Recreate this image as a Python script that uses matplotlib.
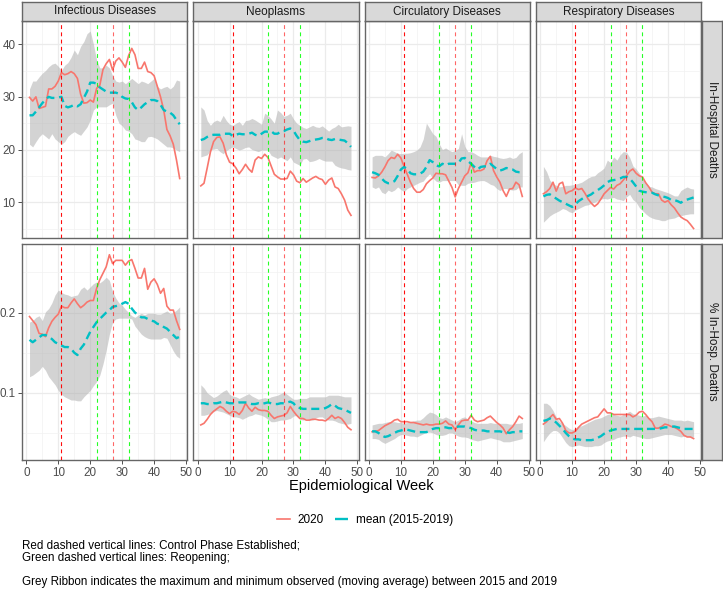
import matplotlib
matplotlib.use("Agg")
import matplotlib.pyplot as plt
from matplotlib.lines import Line2D

plt.rcParams['font.family'] = ['Liberation Sans', 'DejaVu Sans']

weeks = list(range(1, 49))
causes = ["Infectious Diseases", "Neoplasms", "Circulatory Diseases", "Respiratory Diseases"]
measures = ["In-Hospital Deaths", "% In-Hosp. Deaths"]
control_weeks = [11, 27]   # red
reopen_weeks = [22, 32]    # green

# ---- In-hospital deaths ----
inf_n_2020 = [29.9, 29.2, 30.0, 27.8, 28.0, 28.2, 31.5, 31.5, 32.0, 33.0, 34.6, 34.2, 34.4, 34.8, 34.4, 33.5,
              30.5, 28.8, 28.9, 29.4, 29.0, 31.6, 32.2, 35.2, 36.3, 37.1, 35.1, 36.8, 37.4, 36.6, 35.6, 37.8,
              39.2, 38.0, 35.4, 35.4, 36.6, 34.8, 34.6, 34.0, 32.0, 30.0, 27.5, 23.8, 22.6, 21.0, 18.0, 14.5]
inf_n_mean = [26.5, 26.5, 27.2, 28.0, 28.8, 29.5, 30.0, 29.8, 29.8, 29.9, 30.0, 28.3, 28.0, 28.2, 28.5, 28.2,
              28.6, 29.8, 31.0, 32.7, 32.7, 32.5, 31.8, 31.4, 31.0, 30.8, 30.8, 30.8, 30.6, 30.0, 29.7, 29.6,
              29.0, 28.0, 27.5, 28.0, 28.6, 29.0, 29.4, 29.4, 29.2, 28.5, 27.5, 27.2, 27.0, 26.5, 25.6, 24.8]
inf_n_max = [31.5, 33.0, 33.0, 33.8, 34.5, 35.0, 35.7, 36.2, 36.4, 35.8, 35.0, 36.0, 36.5, 37.5, 38.9, 38.0,
             39.6, 40.5, 42.0, 42.5, 40.0, 37.0, 35.5, 35.5, 36.0, 35.5, 34.0, 33.0, 32.8, 33.0, 32.5, 33.0,
             33.5, 33.0, 32.5, 33.0, 32.8, 32.5, 33.0, 33.5, 32.0, 31.5, 31.8, 32.0, 31.5, 32.0, 33.2, 33.0]
inf_n_min = [21.0, 20.5, 21.5, 22.4, 23.0, 22.5, 22.0, 23.0, 22.0, 21.5, 21.0, 21.5, 22.5, 23.0, 23.4, 23.0,
             22.7, 23.5, 24.3, 25.6, 27.5, 28.1, 28.1, 28.1, 28.1, 28.5, 28.8, 26.5, 25.0, 24.5, 23.7, 23.5,
             23.0, 22.0, 21.8, 21.5, 21.5, 22.4, 22.5, 22.3, 22.0, 21.5, 21.0, 20.5, 20.5, 20.3, 19.9, 19.6]

neo_n_2020 = [13.1, 13.6, 16.5, 19.5, 21.5, 22.3, 22.4, 21.2, 19.0, 17.6, 17.3, 16.5, 15.4, 16.2, 17.2, 16.3,
              15.7, 18.0, 18.6, 18.3, 19.1, 18.5, 16.9, 15.3, 14.8, 14.4, 14.4, 14.5, 15.9, 15.2, 14.0, 13.7,
              14.5, 13.8, 14.2, 14.6, 14.9, 14.5, 14.3, 13.4, 14.2, 14.6, 12.9, 12.6, 11.6, 10.4, 8.5, 7.5]
neo_n_mean = [21.8, 22.0, 22.4, 22.7, 22.8, 22.8, 22.8, 23.0, 23.0, 23.0, 22.6, 22.8, 23.0, 22.9, 22.9, 23.0,
              23.2, 22.8, 22.6, 23.0, 23.4, 23.4, 23.5, 23.0, 23.0, 23.4, 23.5, 23.8, 24.0, 23.6, 22.6, 21.8,
              21.5, 21.4, 21.6, 21.8, 21.9, 22.0, 22.2, 22.2, 21.9, 21.8, 22.0, 21.9, 21.8, 21.7, 21.2, 20.5]
neo_n_max = [28.1, 27.5, 25.5, 24.6, 25.3, 25.6, 25.3, 26.5, 25.5, 24.8, 24.6, 25.0, 25.3, 24.6, 25.5, 25.6,
             25.9, 25.6, 25.2, 24.8, 26.9, 26.5, 25.8, 25.0, 27.5, 27.0, 26.3, 26.5, 26.9, 25.8, 25.0, 24.6,
             24.2, 24.0, 24.3, 24.6, 24.3, 24.2, 24.5, 24.0, 23.5, 24.0, 24.3, 24.8, 24.3, 24.4, 24.5, 24.4]
neo_n_min = [18.6, 18.8, 19.0, 19.9, 20.1, 20.2, 19.6, 19.2, 19.8, 20.2, 20.5, 20.2, 19.9, 20.1, 20.4, 20.5,
             20.0, 19.8, 19.6, 19.9, 19.9, 19.9, 18.9, 18.6, 18.3, 18.6, 18.2, 17.9, 18.6, 17.6, 17.3, 17.0,
             18.2, 18.3, 17.7, 17.8, 18.0, 18.3, 18.0, 17.8, 17.8, 17.8, 17.0, 16.7, 16.5, 16.4, 16.2, 16.1]

cir_n_2020 = [14.7, 14.6, 15.0, 15.7, 16.7, 17.9, 18.5, 18.3, 19.1, 18.4, 16.8, 15.3, 13.8, 12.6, 11.9, 11.9,
              12.4, 13.5, 14.1, 14.6, 15.5, 15.4, 15.4, 15.2, 14.0, 12.8, 11.0, 12.6, 13.8, 15.0, 15.6, 17.5,
              15.7, 16.0, 16.0, 16.3, 17.9, 18.7, 16.0, 14.8, 13.8, 12.2, 11.1, 12.5, 12.6, 13.8, 13.3, 11.1]
cir_n_mean = [15.7, 15.5, 15.2, 14.5, 13.9, 13.6, 13.7, 14.0, 15.0, 16.2, 16.7, 16.3, 15.5, 15.3, 15.3, 15.4,
              15.8, 16.7, 18.0, 17.6, 17.0, 16.8, 17.3, 17.0, 17.3, 17.3, 17.3, 17.4, 18.3, 18.4, 17.8, 17.3,
              16.7, 16.2, 16.7, 16.8, 16.8, 17.3, 16.8, 16.3, 16.0, 16.2, 16.5, 16.3, 16.2, 15.8, 15.7, 15.7]
cir_n_max = [18.6, 18.9, 18.9, 18.9, 18.6, 19.2, 19.9, 19.6, 19.3, 19.2, 19.3, 19.3, 19.4, 19.6, 19.9, 20.5,
             22.0, 25.0, 24.0, 23.0, 22.5, 21.1, 20.0, 20.3, 19.9, 19.6, 19.8, 20.2, 23.0, 20.6, 19.6, 19.6,
             19.3, 18.9, 18.6, 18.6, 18.6, 18.9, 18.7, 18.6, 18.4, 18.3, 18.4, 18.6, 18.3, 18.5, 19.2, 19.6]
cir_n_min = [12.9, 12.6, 12.9, 11.9, 11.6, 12.3, 12.0, 12.3, 12.9, 12.4, 12.0, 12.6, 12.9, 13.2, 13.5, 13.8,
             14.0, 14.8, 15.4, 14.6, 14.0, 13.8, 14.1, 14.1, 14.1, 14.1, 14.1, 13.3, 13.2, 13.2, 13.6, 13.7,
             13.8, 14.0, 14.1, 14.1, 13.8, 13.4, 13.2, 12.6, 12.2, 12.6, 12.6, 12.4, 12.3, 12.4, 12.9, 12.9]

res_n_2020 = [11.6, 12.0, 12.6, 13.8, 12.1, 13.5, 13.8, 11.6, 12.0, 12.2, 12.7, 12.4, 12.6, 11.7, 10.6, 9.8,
              9.2, 9.7, 10.6, 11.6, 12.2, 12.8, 12.5, 13.2, 13.5, 14.2, 15.0, 15.9, 16.3, 15.5, 15.0, 14.8,
              13.7, 12.9, 11.9, 11.6, 11.6, 10.4, 10.0, 10.3, 9.5, 8.9, 8.0, 7.2, 6.8, 6.5, 5.8, 5.0]
res_n_mean = [11.1, 11.4, 11.5, 11.1, 10.7, 10.3, 10.0, 9.7, 9.4, 9.1, 9.6, 10.2, 10.6, 11.0, 11.2, 11.5,
              12.0, 12.3, 12.7, 13.2, 13.8, 14.1, 14.2, 14.3, 14.5, 14.8, 14.8, 14.5, 13.8, 13.0, 12.2, 12.0,
              11.9, 11.8, 11.8, 11.5, 11.3, 11.1, 11.0, 10.8, 10.4, 10.4, 10.2, 9.9, 10.3, 10.5, 10.7, 10.9]
res_n_max = [16.8, 15.8, 14.2, 13.5, 13.2, 12.9, 13.0, 13.2, 13.2, 13.3, 13.4, 13.6, 13.8, 14.2, 14.6, 14.9,
             15.0, 15.6, 16.0, 16.5, 18.0, 17.5, 18.6, 18.0, 19.0, 19.6, 19.5, 18.5, 16.9, 16.3, 15.5, 14.6,
             13.8, 13.0, 12.9, 12.6, 12.4, 12.2, 12.0, 11.8, 11.5, 11.2, 11.2, 12.2, 12.6, 12.9, 12.6, 12.5]
res_n_min = [6.2, 6.8, 7.4, 7.8, 8.1, 8.4, 8.8, 8.6, 8.2, 8.0, 8.5, 8.8, 9.1, 9.4, 9.5, 9.8,
             10.0, 10.3, 10.6, 10.7, 10.6, 10.8, 10.9, 10.6, 10.5, 10.3, 11.0, 11.5, 10.5, 10.0, 9.0, 8.4,
             7.8, 7.3, 7.0, 6.8, 6.7, 6.5, 6.5, 6.8, 6.9, 7.0, 7.3, 7.4, 7.6, 7.7, 7.8, 7.8]

# ---- % in-hospital deaths ----
inf_p_2020 = [0.195, 0.190, 0.185, 0.174, 0.173, 0.170, 0.181, 0.189, 0.194, 0.198, 0.208, 0.206, 0.206, 0.212,
              0.217, 0.211, 0.206, 0.209, 0.213, 0.215, 0.215, 0.230, 0.241, 0.249, 0.257, 0.272, 0.261, 0.265,
              0.265, 0.265, 0.259, 0.264, 0.266, 0.255, 0.243, 0.243, 0.255, 0.229, 0.238, 0.242, 0.235, 0.224,
              0.230, 0.208, 0.203, 0.203, 0.190, 0.179]
inf_p_mean = [0.166, 0.163, 0.166, 0.169, 0.172, 0.172, 0.170, 0.167, 0.163, 0.161, 0.159, 0.157, 0.157, 0.155,
              0.150, 0.147, 0.155, 0.160, 0.168, 0.176, 0.182, 0.188, 0.192, 0.196, 0.200, 0.203, 0.207, 0.208,
              0.209, 0.211, 0.213, 0.211, 0.205, 0.200, 0.197, 0.194, 0.194, 0.192, 0.190, 0.189, 0.186, 0.185,
              0.182, 0.180, 0.176, 0.172, 0.168, 0.170]
inf_p_max = [0.188, 0.190, 0.194, 0.196, 0.190, 0.201, 0.205, 0.212, 0.222, 0.228, 0.225, 0.223, 0.222, 0.220,
             0.221, 0.222, 0.229, 0.232, 0.228, 0.232, 0.236, 0.238, 0.237, 0.240, 0.244, 0.240, 0.226, 0.218,
             0.212, 0.209, 0.204, 0.200, 0.196, 0.194, 0.197, 0.199, 0.197, 0.199, 0.199, 0.199, 0.198, 0.198,
             0.200, 0.202, 0.199, 0.200, 0.203, 0.207]
inf_p_min = [0.120, 0.122, 0.125, 0.128, 0.133, 0.128, 0.120, 0.115, 0.110, 0.103, 0.098, 0.095, 0.093, 0.091,
             0.091, 0.090, 0.090, 0.095, 0.099, 0.103, 0.109, 0.114, 0.122, 0.136, 0.153, 0.173, 0.188, 0.192,
             0.193, 0.193, 0.193, 0.193, 0.192, 0.183, 0.178, 0.173, 0.170, 0.168, 0.167, 0.167, 0.167, 0.167,
             0.169, 0.168, 0.160, 0.152, 0.146, 0.143]

neo_p_2020 = [0.060, 0.062, 0.067, 0.073, 0.077, 0.080, 0.083, 0.081, 0.077, 0.074, 0.077, 0.076, 0.073, 0.078,
              0.087, 0.081, 0.077, 0.082, 0.079, 0.078, 0.078, 0.077, 0.072, 0.068, 0.070, 0.071, 0.072, 0.075,
              0.083, 0.077, 0.072, 0.068, 0.068, 0.066, 0.066, 0.067, 0.067, 0.066, 0.066, 0.065, 0.068, 0.072,
              0.068, 0.070, 0.068, 0.063, 0.057, 0.054]
neo_p_mean = [0.087, 0.087, 0.086, 0.086, 0.087, 0.087, 0.088, 0.089, 0.088, 0.087, 0.087, 0.087, 0.088, 0.088,
              0.088, 0.087, 0.086, 0.086, 0.087, 0.086, 0.087, 0.088, 0.087, 0.086, 0.086, 0.087, 0.087, 0.088,
              0.089, 0.087, 0.082, 0.081, 0.080, 0.080, 0.080, 0.080, 0.080, 0.080, 0.080, 0.081, 0.083, 0.086,
              0.084, 0.081, 0.080, 0.079, 0.077, 0.075]
neo_p_max = [0.110, 0.106, 0.100, 0.097, 0.094, 0.096, 0.099, 0.102, 0.104, 0.098, 0.096, 0.095, 0.093, 0.095,
             0.097, 0.099, 0.096, 0.094, 0.092, 0.093, 0.094, 0.093, 0.095, 0.096, 0.097, 0.099, 0.101, 0.098,
             0.095, 0.092, 0.092, 0.093, 0.093, 0.093, 0.095, 0.095, 0.095, 0.095, 0.095, 0.095, 0.097, 0.097,
             0.097, 0.097, 0.096, 0.095, 0.095, 0.095]
neo_p_min = [0.072, 0.072, 0.073, 0.075, 0.077, 0.078, 0.077, 0.076, 0.074, 0.072, 0.070, 0.070, 0.069, 0.067,
             0.069, 0.071, 0.072, 0.074, 0.073, 0.072, 0.070, 0.067, 0.064, 0.064, 0.065, 0.066, 0.066, 0.067,
             0.068, 0.071, 0.072, 0.067, 0.066, 0.068, 0.067, 0.066, 0.069, 0.070, 0.070, 0.067, 0.066, 0.066,
             0.065, 0.063, 0.062, 0.061, 0.061, 0.062]

cir_p_2020 = [0.0515, 0.052, 0.053, 0.056, 0.059, 0.061, 0.063, 0.066, 0.067, 0.064, 0.064, 0.064, 0.063, 0.063,
              0.062, 0.061, 0.060, 0.061, 0.060, 0.060, 0.061, 0.061, 0.062, 0.065, 0.061, 0.060, 0.054, 0.060,
              0.065, 0.066, 0.066, 0.072, 0.066, 0.064, 0.065, 0.066, 0.069, 0.071, 0.067, 0.063, 0.060, 0.056,
              0.049, 0.054, 0.058, 0.064, 0.071, 0.068]
cir_p_mean = [0.052, 0.052, 0.050, 0.047, 0.045, 0.046, 0.048, 0.050, 0.052, 0.053, 0.054, 0.054, 0.053, 0.052,
              0.051, 0.051, 0.051, 0.051, 0.053, 0.055, 0.056, 0.056, 0.057, 0.057, 0.056, 0.056, 0.057, 0.058,
              0.058, 0.058, 0.057, 0.056, 0.054, 0.053, 0.053, 0.053, 0.052, 0.052, 0.052, 0.052, 0.052, 0.051,
              0.051, 0.050, 0.051, 0.051, 0.052, 0.052]
cir_p_max = [0.060, 0.061, 0.062, 0.062, 0.063, 0.064, 0.064, 0.064, 0.063, 0.063, 0.062, 0.063, 0.064, 0.065,
             0.066, 0.066, 0.069, 0.073, 0.076, 0.075, 0.073, 0.069, 0.068, 0.070, 0.068, 0.066, 0.064, 0.066,
             0.069, 0.070, 0.067, 0.065, 0.063, 0.062, 0.062, 0.062, 0.062, 0.063, 0.062, 0.062, 0.062, 0.062,
             0.062, 0.061, 0.061, 0.062, 0.062, 0.063]
cir_p_min = [0.043, 0.043, 0.042, 0.039, 0.037, 0.039, 0.041, 0.043, 0.046, 0.048, 0.048, 0.047, 0.046, 0.046,
             0.045, 0.047, 0.049, 0.051, 0.051, 0.050, 0.048, 0.047, 0.047, 0.048, 0.050, 0.050, 0.048, 0.046,
             0.045, 0.045, 0.044, 0.042, 0.041, 0.040, 0.041, 0.042, 0.043, 0.044, 0.043, 0.042, 0.041, 0.039,
             0.039, 0.039, 0.040, 0.041, 0.042, 0.043]

res_p_2020 = [0.061, 0.064, 0.069, 0.073, 0.067, 0.068, 0.062, 0.053, 0.050, 0.050, 0.052, 0.057, 0.061, 0.063,
              0.065, 0.067, 0.069, 0.070, 0.075, 0.080, 0.075, 0.075, 0.073, 0.073, 0.073, 0.073, 0.073, 0.073,
              0.070, 0.072, 0.076, 0.077, 0.073, 0.068, 0.064, 0.056, 0.056, 0.058, 0.061, 0.060, 0.058, 0.057,
              0.055, 0.052, 0.047, 0.045, 0.045, 0.043]
res_p_mean = [0.065, 0.066, 0.068, 0.066, 0.063, 0.059, 0.055, 0.050, 0.046, 0.043, 0.042, 0.042, 0.041, 0.041,
              0.041, 0.041, 0.042, 0.044, 0.046, 0.049, 0.051, 0.053, 0.054, 0.055, 0.055, 0.055, 0.055, 0.055,
              0.055, 0.055, 0.055, 0.055, 0.055, 0.055, 0.055, 0.055, 0.055, 0.056, 0.057, 0.057, 0.058, 0.058,
              0.057, 0.056, 0.055, 0.055, 0.055, 0.055]
res_p_max = [0.087, 0.087, 0.084, 0.078, 0.070, 0.064, 0.062, 0.059, 0.056, 0.054, 0.056, 0.058, 0.059, 0.061,
             0.063, 0.065, 0.067, 0.068, 0.069, 0.071, 0.073, 0.074, 0.073, 0.072, 0.071, 0.073, 0.075, 0.077,
             0.074, 0.073, 0.072, 0.071, 0.072, 0.069, 0.069, 0.070, 0.071, 0.070, 0.069, 0.068, 0.067, 0.066,
             0.066, 0.066, 0.065, 0.066, 0.065, 0.064]
res_p_min = [0.039, 0.045, 0.050, 0.053, 0.053, 0.050, 0.044, 0.038, 0.034, 0.033, 0.034, 0.035, 0.034, 0.033,
             0.033, 0.033, 0.034, 0.034, 0.035, 0.038, 0.040, 0.041, 0.042, 0.044, 0.045, 0.046, 0.046, 0.045,
             0.047, 0.046, 0.045, 0.044, 0.043, 0.043, 0.044, 0.045, 0.046, 0.047, 0.048, 0.048, 0.048, 0.047,
             0.046, 0.045, 0.046, 0.046, 0.045, 0.045]

panels = [
    [(inf_n_2020, inf_n_mean, inf_n_min, inf_n_max), (neo_n_2020, neo_n_mean, neo_n_min, neo_n_max),
     (cir_n_2020, cir_n_mean, cir_n_min, cir_n_max), (res_n_2020, res_n_mean, res_n_min, res_n_max)],
    [(inf_p_2020, inf_p_mean, inf_p_min, inf_p_max), (neo_p_2020, neo_p_mean, neo_p_min, neo_p_max),
     (cir_p_2020, cir_p_mean, cir_p_min, cir_p_max), (res_p_2020, res_p_mean, res_p_min, res_p_max)],
]

RED = '#F8766D'
TEAL = '#00BFC4'
W, H = 723, 590
fig = plt.figure(figsize=(W / 100, H / 100), dpi=100)


def box(x0, y0, x1, y1):
    # pixel box (from top-left) -> figure fraction rect
    return [x0 / W, 1 - y1 / H, (x1 - x0) / W, (y1 - y0) / H]


pw, gap = 165.2, 6.1
col_x = [22 + i * (pw + gap) for i in range(4)]
ph = 216.5
row_y = [21, 243.5]
ylims = [(3.3, 44.4), (0.0163, 0.286)]
yticks = [[10, 20, 30, 40], [0.1, 0.2]]
yminor = [[5, 15, 25, 35], [0.05, 0.15, 0.25]]
vline_alpha = [0.95, 0.6]

for r in range(2):
    for c in range(4):
        x0, y0 = col_x[c], row_y[r]
        ax = fig.add_axes(box(x0, y0, x0 + pw, y0 + ph))
        y2020, ymean, ymin, ymax = panels[r][c]
        ax.fill_between(weeks, ymin, ymax, color='#b0b0b0', alpha=0.55, lw=0, zorder=2)
        ax.plot(weeks, y2020, color=RED, lw=1.2, zorder=3)
        ax.plot(weeks, ymean, color=TEAL, lw=1.7, dashes=(3.4, 2.0), zorder=3)
        for wk, a in zip(control_weeks, vline_alpha):
            ax.axvline(wk, color='red', alpha=a, lw=0.8, dashes=(3.5, 3), zorder=4)
        for wk in reopen_weeks:
            ax.axvline(wk, color='#00FF00', alpha=0.85, lw=0.8, dashes=(3.5, 3), zorder=4)

        ax.set_xlim(-1.35, 50.35)
        ax.set_ylim(*ylims[r])
        ax.set_xticks(range(0, 51, 10))
        ax.set_xticks(range(5, 50, 10), minor=True)
        ax.set_yticks(yticks[r])
        ax.set_yticks(yminor[r], minor=True)
        ax.grid(which='major', color='#EBEBEB', lw=0.9, zorder=0)
        ax.grid(which='minor', color='#F2F2F2', lw=0.5, zorder=0)
        ax.set_axisbelow(True)
        for sp in ax.spines.values():
            sp.set_color('#666666')
            sp.set_linewidth(1.0)
        ax.tick_params(which='minor', length=0)
        ax.tick_params(which='major', length=2.7, width=0.6, color='#333333',
                       labelsize=8.4, labelcolor='#4D4D4D', pad=2)
        if c > 0:
            ax.tick_params(axis='y', length=0, labelleft=False)
        if r == 0:
            ax.tick_params(axis='x', length=0, labelbottom=False)

        if r == 0:
            sax = fig.add_axes(box(x0, 2, x0 + pw, 21))
            sax.set_facecolor('#D9D9D9')
            sax.set_xticks([])
            sax.set_yticks([])
            for sp in sax.spines.values():
                sp.set_color('#666666')
                sp.set_linewidth(1.0)
            sax.text(0.5, 0.5, causes[c], ha='center', va='center', fontsize=8.5,
                     color='#1A1A1A', transform=sax.transAxes)
    rax = fig.add_axes(box(702, row_y[r], 721.5, row_y[r] + ph))
    rax.set_facecolor('#D9D9D9')
    rax.set_xticks([])
    rax.set_yticks([])
    for sp in rax.spines.values():
        sp.set_color('#666666')
        sp.set_linewidth(1.0)
    rax.text(0.5, 0.5, measures[r], ha='center', va='center', rotation=-90,
             fontsize=8.5, color='#1A1A1A', transform=rax.transAxes)

fig.text(361 / W, 1 - 486 / H, "Epidemiological Week", ha='center', va='center', fontsize=10.5)

handles = [Line2D([], [], color=RED, lw=1.2),
           Line2D([], [], color=TEAL, lw=1.7, dashes=(5.5, 2.0))]
fig.legend(handles, ["2020", "mean (2015-2019)"], loc='center', bbox_to_anchor=(365 / W, 1 - 520 / H),
           ncol=2, frameon=False, fontsize=8.5, handlelength=1.1, columnspacing=0.9, handletextpad=0.7)

fig.text(22 / W, 1 - 546 / H, "Red dashed vertical lines: Control Phase Established;", fontsize=8.4, va='center')
fig.text(22 / W, 1 - 558 / H, "Green dashed vertical lines: Reopening;", fontsize=8.4, va='center')
fig.text(22 / W, 1 - 582 / H,
         "Grey Ribbon indicates the maximum and minimum observed (moving average) between 2015 and 2019",
         fontsize=8.4, va='center')

fig.savefig("out.png", dpi=100)
